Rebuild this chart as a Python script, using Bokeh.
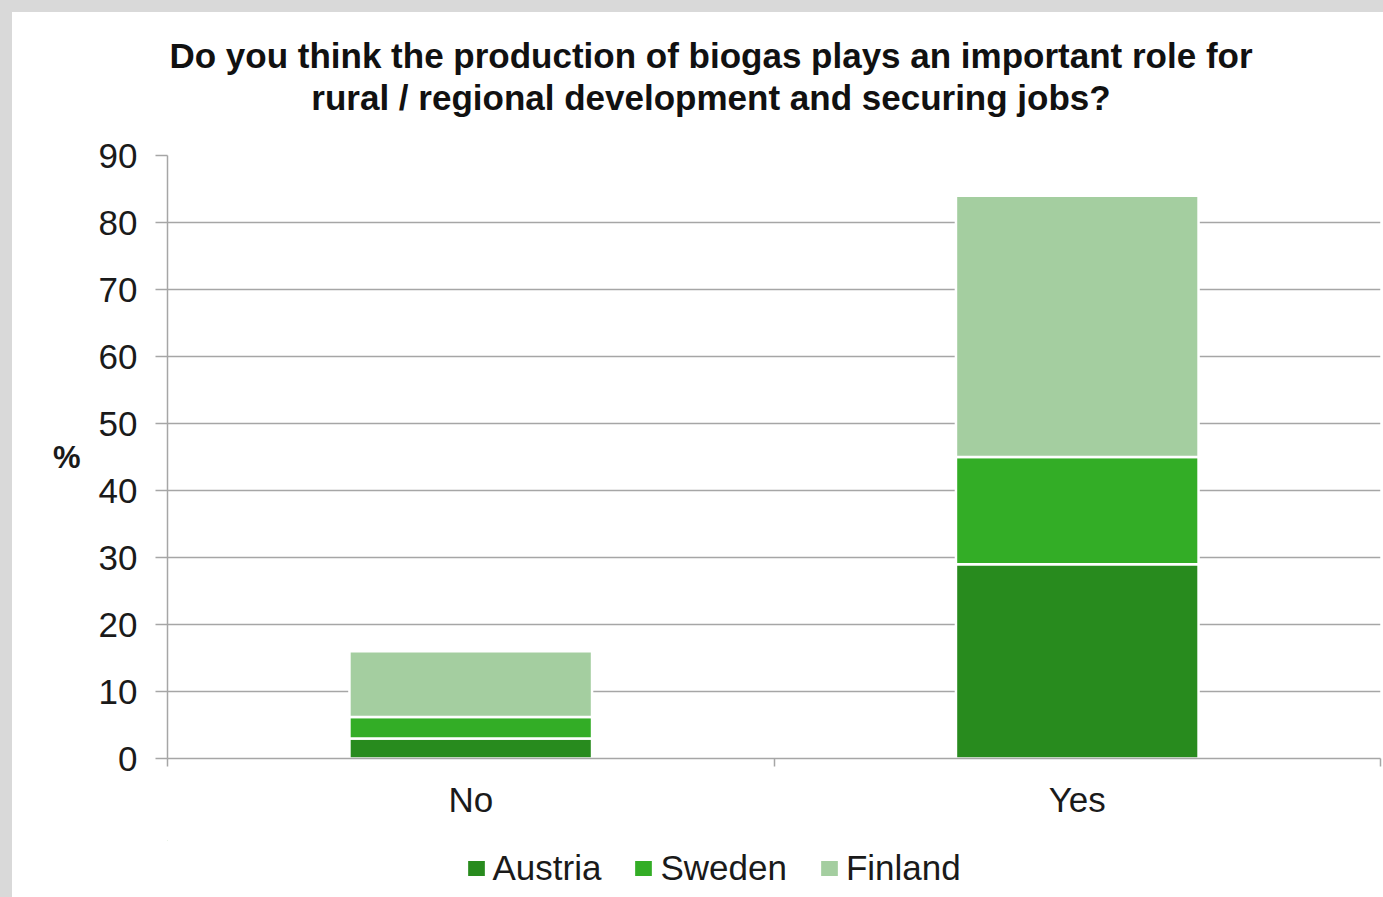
from bokeh.plotting import figure
from bokeh.models import (ColumnDataSource, FixedTicker, Legend, LegendItem,
                          Label, Range1d)
from bokeh.layouts import column
from bokeh.embed import file_html
from bokeh.resources import INLINE

# ---- data ----
categories = ["No", "Yes"]
countries = ["Austria", "Sweden", "Finland"]
austria = [3.0, 29.0]
sweden = [3.2, 16.0]
finland = [9.8, 39.0]
y_ticks = [0, 10, 20, 30, 40, 50, 60, 70, 80, 90]
title_lines = ["Do you think the production of biogas plays an important role for",
               "rural / regional development and securing jobs?"]
colors = ["#288b1e", "#33ad26", "#a4cea0"]

FONT = "Liberation Sans"
GRAY = "#a6a6a6"
TXT = "#1a1a1a"
W = 1371


def strip(height):
    f = figure(width=W, height=height, x_range=Range1d(10, 11), y_range=Range1d(-2, -1),
               output_backend="svg", toolbar_location=None,
               x_axis_type=None, y_axis_type=None,
               min_border_left=0, min_border_right=0, min_border_top=0, min_border_bottom=0,
               background_fill_color="white", border_fill_color="white")
    f.outline_line_color = None
    f.grid.visible = False
    f.title.visible = False
    return f


xpos = [i + 0.5 for i in range(len(categories))]
bounds = [float(i) for i in range(len(categories) + 1)]
source = ColumnDataSource(dict(x=xpos, Austria=austria, Sweden=sweden, Finland=finland))

# ---- title strip ----
pt = strip(118)
for i, line in enumerate(title_lines):
    pt.add_layout(Label(x=543.5, y=75 - 42 * i, x_units="screen", y_units="screen",
                        text=line, text_align="center", text_baseline="middle",
                        text_font=FONT, text_font_size="35px", text_font_style="bold",
                        text_color="#111111"))

# ---- main chart ----
p = figure(width=W, height=710,
           x_range=Range1d(0, len(categories)), y_range=Range1d(0, 90),
           output_backend="svg", toolbar_location=None,
           min_border_left=155, min_border_right=3,
           min_border_top=25, min_border_bottom=82,
           background_fill_color="white", border_fill_color="white")
p.outline_line_color = None
p.title.visible = False

renderers = p.vbar_stack(countries, x="x", width=0.4, color=colors, source=source,
                         line_color="white", line_width=2.5)

yax = p.yaxis[0]
yax.ticker = FixedTicker(ticks=y_ticks)
yax.axis_line_color = GRAY
yax.axis_line_width = 1.5
yax.major_tick_line_color = GRAY
yax.major_tick_line_width = 1.5
yax.major_tick_out = 12
yax.major_tick_in = 0
yax.minor_tick_line_color = None
yax.major_label_text_font = FONT
yax.major_label_text_font_size = "35px"
yax.major_label_text_color = TXT
yax.major_label_standoff = 18
yax.axis_label = "%"
yax.axis_label_text_font = FONT
yax.axis_label_text_font_size = "31px"
yax.axis_label_text_font_style = "bold"
yax.axis_label_text_color = TXT
yax.axis_label_orientation = "horizontal"
yax.axis_label_standoff = 15

p.ygrid.ticker = FixedTicker(ticks=y_ticks)
p.ygrid.grid_line_color = GRAY
p.ygrid.grid_line_width = 1.5
p.xgrid.visible = False

xax = p.xaxis[0]
xax.ticker = FixedTicker(ticks=xpos, minor_ticks=bounds)
xax.major_label_overrides = {x: c for x, c in zip(xpos, categories)}
xax.axis_line_color = GRAY
xax.axis_line_width = 1.5
xax.major_tick_line_color = None
xax.major_tick_out = 0
xax.major_tick_in = 0
xax.minor_tick_line_color = GRAY
xax.minor_tick_line_width = 1.5
xax.minor_tick_out = 8
xax.minor_tick_in = 0
xax.major_label_text_font = FONT
xax.major_label_text_font_size = "35px"
xax.major_label_text_color = TXT
xax.major_label_standoff = 13

# ---- legend strip (same series drawn outside its visible ranges, used as legend keys) ----
pl = strip(57)
keys = pl.vbar_stack(countries, x="x", width=0.4, color=colors, source=source,
                     line_color="white", line_width=2.5)
legend = Legend(items=[LegendItem(label=c, renderers=[r]) for c, r in zip(countries, keys)],
                orientation="horizontal", location=(296.5, 9),
                glyph_width=24, glyph_height=22, label_standoff=5, spacing=30,
                label_text_font=FONT, label_text_font_size="35px",
                label_text_color=TXT,
                border_line_color=None, background_fill_alpha=0, padding=0, margin=0)
pl.add_layout(legend, "center")

layout = column(pt, p, pl, spacing=0,
                styles={"background-color": "white",
                        "border-left": "12px solid #d9d9d9",
                        "border-top": "12px solid #d9d9d9"})

open("out.html", "w").write(file_html(layout, INLINE))
